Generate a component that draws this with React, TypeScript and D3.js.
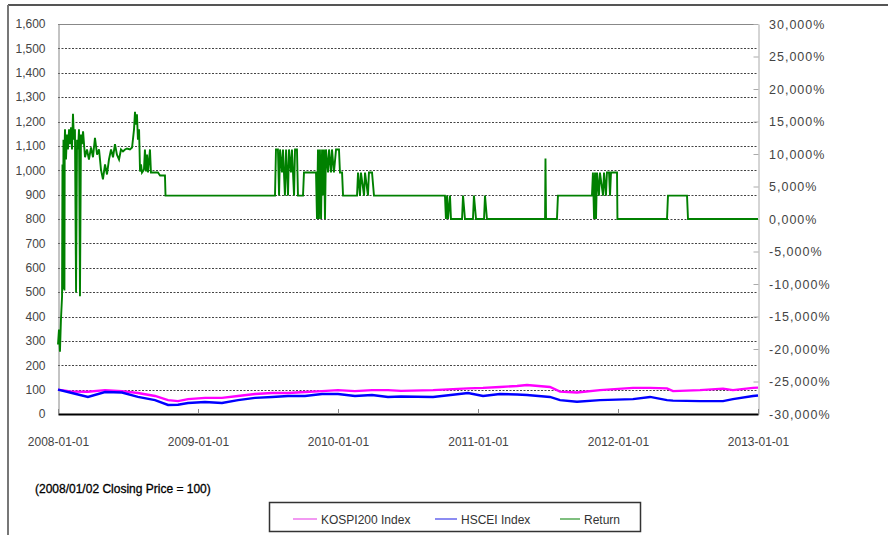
import { useEffect, useRef } from "react";
import * as d3 from "d3";

const W = 888;
const H = 535;
// plot frame in page pixels
const PLOT = { left: 58, right: 758, top: 24, bottom: 414 };
const FONT = "'Liberation Sans', Arial, sans-serif";

// ── axis ticks ─────────────────────────────────────────────────────────
const X_TICKS = [2008, 2009, 2010, 2011, 2012, 2013];
const X_LABELS = ["2008-01-01", "2009-01-01", "2010-01-01", "2011-01-01", "2012-01-01", "2013-01-01"];
const LEFT_TICKS = [0, 100, 200, 300, 400, 500, 600, 700, 800, 900, 1000, 1100, 1200, 1300, 1400, 1500, 1600];
const RIGHT_TICKS = [30000, 25000, 20000, 15000, 10000, 5000, 0, -5000, -10000, -15000, -20000, -25000, -30000];
const RIGHT_LABELS = [
  "30,000%", "25,000%", "20,000%", "15,000%", "10,000%", "5,000%", "0,000%",
  "-5,000%", "-10,000%", "-15,000%", "-20,000%", "-25,000%", "-30,000%",
];

// ── index series (2008/01/02 close = 100), left axis ───────────────────
const INDEX_YEARS = [
  2008.0, 2008.1, 2008.214, 2008.336, 2008.457, 2008.571, 2008.693, 2008.786, 2008.857, 2008.929,
  2009.05, 2009.171, 2009.286, 2009.407, 2009.529, 2009.643, 2009.764, 2009.886, 2010.0, 2010.121,
  2010.243, 2010.357, 2010.45, 2010.679, 2010.929, 2011.036, 2011.157, 2011.279, 2011.35, 2011.514,
  2011.586, 2011.707, 2011.871, 2012.107, 2012.229, 2012.35, 2012.393, 2012.586, 2012.75, 2012.821,
  2012.964, 2013.0,
];
const KOSPI200 = [
  100, 92, 91, 98, 94, 86, 74, 57, 53, 61,
  66, 66, 74, 82, 86, 86, 90, 94, 98, 94,
  98, 98, 95, 98, 105, 107, 111, 115, 119, 111,
  92, 88, 98, 107, 107, 105, 94, 98, 104, 98,
  107, 108,
];
const HSCEI = [
  100, 86, 70, 90, 88, 70, 57, 37, 38, 45,
  49, 45, 57, 66, 70, 74, 74, 82, 82, 74,
  78, 70, 72, 70, 86, 74, 82, 80, 78, 70,
  57, 50, 57, 61, 70, 57, 55, 53, 53, 61,
  74, 76,
];

// ── return series [year, %], right axis ────────────────────────────────
const RETURN: [number, number][] = [
  [2008.0, -19300], [2008.007, -17000], [2008.014, -20400], [2008.021, -15500], [2008.029, -11900],
  [2008.032, 8400], [2008.036, -10800], [2008.039, 12200], [2008.043, 8400], [2008.046, -11000],
  [2008.048, 12000], [2008.05, 13800], [2008.057, 9150], [2008.064, 13000], [2008.071, 10700],
  [2008.079, 13800], [2008.086, 11500], [2008.093, 14100], [2008.1, 10700], [2008.107, 16200],
  [2008.114, 12200], [2008.121, 13800], [2008.129, -11300], [2008.136, 12200], [2008.143, 10700],
  [2008.15, 13800], [2008.157, -11900], [2008.164, 13000], [2008.171, 11500], [2008.179, 13500],
  [2008.193, 9500], [2008.207, 10700], [2008.221, 9150], [2008.236, 11000], [2008.25, 9500],
  [2008.264, 12500], [2008.279, 9900], [2008.293, 10700], [2008.307, 7600], [2008.321, 6100],
  [2008.336, 8400], [2008.35, 6850], [2008.364, 9150], [2008.379, 10700], [2008.393, 9500],
  [2008.407, 11500], [2008.421, 9900], [2008.436, 9150], [2008.45, 10700], [2008.464, 10400],
  [2008.479, 10700], [2008.493, 10850], [2008.514, 10700], [2008.529, 11000], [2008.543, 13800],
  [2008.55, 16500], [2008.557, 14500], [2008.564, 16100], [2008.571, 12200], [2008.579, 13800],
  [2008.586, 7300], [2008.593, 8400], [2008.6, 7150], [2008.614, 7600], [2008.621, 10700],
  [2008.629, 7300], [2008.636, 9900], [2008.643, 7150], [2008.657, 10700], [2008.664, 7150],
  [2008.714, 7150], [2008.729, 6700], [2008.764, 6700], [2008.768, 3600],
  [2009.55, 3600], [2009.557, 10700], [2009.571, 10700], [2009.579, 3600], [2009.586, 10700],
  [2009.6, 7150], [2009.607, 10700], [2009.621, 3600], [2009.629, 10700], [2009.643, 3600],
  [2009.65, 10700], [2009.664, 7150], [2009.671, 10700], [2009.686, 3600], [2009.693, 10700],
  [2009.707, 10700], [2009.714, 3600], [2009.75, 3600], [2009.757, 7150], [2009.843, 7150],
  [2009.85, 0], [2009.857, 10700], [2009.864, 0], [2009.871, 10700], [2009.879, 0],
  [2009.886, 10700], [2009.893, 3600], [2009.9, 10700], [2009.907, 0], [2009.914, 10700],
  [2009.929, 7150], [2009.936, 10700], [2009.95, 7150], [2009.957, 10700], [2009.971, 7150],
  [2009.986, 10700], [2010.007, 10700], [2010.014, 7150], [2010.029, 7150], [2010.036, 3600],
  [2010.136, 3600], [2010.143, 7150], [2010.157, 3600], [2010.164, 7150], [2010.186, 3600],
  [2010.193, 7150], [2010.214, 3600], [2010.221, 7150], [2010.243, 7150], [2010.257, 3600],
  [2010.764, 3600], [2010.771, 0], [2010.779, 3600], [2010.786, 0], [2010.8, 3600],
  [2010.807, 0], [2010.886, 0], [2010.893, 3600], [2010.907, 0], [2010.964, 0],
  [2010.971, 3600], [2010.986, 0], [2011.043, 0], [2011.05, 3600], [2011.064, 0],
  [2011.479, 0], [2011.482, 9300], [2011.486, 0], [2011.564, 0], [2011.571, 3600],
  [2011.814, 3600], [2011.821, 7150], [2011.829, 0], [2011.836, 7150], [2011.843, 0],
  [2011.85, 7150], [2011.864, 3600], [2011.871, 7150], [2011.893, 3600], [2011.9, 7150],
  [2011.914, 3600], [2011.921, 7150], [2011.936, 7150], [2011.943, 3600], [2011.95, 7150],
  [2011.993, 7150], [2011.996, 0], [2012.35, 0], [2012.357, 3600], [2012.493, 3600],
  [2012.5, 0], [2013.0, 0],
];

const SERIES = [
  { name: "KOSPI200 Index", color: "#ff00ff", legend: "#ee77ee" },
  { name: "HSCEI Index", color: "#0000ff", legend: "#6666ee" },
  { name: "Return", color: "#008000", legend: "#55aa55" },
];

export default function App() {
  const svgRef = useRef<SVGSVGElement>(null);

  useEffect(() => {
    if (!svgRef.current) return;
    const svg = d3.select(svgRef.current);
    svg.selectAll("*").remove();

    const x = d3.scaleLinear().domain([2008, 2013]).range([PLOT.left, PLOT.right]);
    const yLeft = d3.scaleLinear().domain([0, 1600]).range([PLOT.bottom, PLOT.top]);
    const yRight = d3.scaleLinear().domain([-30000, 30000]).range([PLOT.bottom, PLOT.top]);
    const crisp = (v: number) => Math.round(v) + 0.5;

    // outer chart border (cut off at right/bottom)
    svg.append("line")
      .attr("x1", 8).attr("x2", W).attr("y1", 5).attr("y2", 5)
      .attr("stroke", "#555").attr("stroke-width", 2);
    svg.append("line")
      .attr("x1", 8).attr("x2", 8).attr("y1", 5).attr("y2", H)
      .attr("stroke", "#777").attr("stroke-width", 2);

    // dotted gridlines
    svg.append("g")
      .selectAll("line")
      .data(LEFT_TICKS.filter((d) => d > 0 && d < 1600))
      .join("line")
      .attr("x1", PLOT.left).attr("x2", PLOT.right)
      .attr("y1", (d) => crisp(yLeft(d))).attr("y2", (d) => crisp(yLeft(d)))
      .attr("stroke", "#444").attr("stroke-width", 1)
      .attr("stroke-dasharray", "2,1.5");

    // top frame
    svg.append("line")
      .attr("x1", PLOT.left).attr("x2", PLOT.right)
      .attr("y1", crisp(PLOT.top)).attr("y2", crisp(PLOT.top))
      .attr("stroke", "#888");

    // left axis
    const leftAxis = svg.append("g")
      .attr("transform", `translate(${PLOT.left + 0.5},0)`)
      .call(d3.axisLeft(yLeft).tickValues(LEFT_TICKS).tickFormat(d3.format(",") as any).tickSize(0).tickPadding(13));
    leftAxis.select(".domain").attr("stroke", "#888");
    leftAxis.selectAll("text")
      .attr("fill", "#444").attr("font-size", "12px").attr("font-family", FONT);

    // right axis: inner ticks + labels
    const rightTicks = svg.append("g")
      .attr("transform", `translate(${PLOT.right + 0.5},0)`)
      .call(d3.axisLeft(yRight).tickValues(RIGHT_TICKS).tickFormat(() => "").tickSize(5).tickSizeOuter(0));
    rightTicks.select(".domain").attr("stroke", "#aaa");
    rightTicks.selectAll(".tick line").attr("stroke", "#aaa");

    const rightAxis = svg.append("g")
      .attr("transform", `translate(${PLOT.right},0)`)
      .call(d3.axisRight(yRight).tickValues(RIGHT_TICKS)
        .tickFormat((_, i) => RIGHT_LABELS[i]).tickSize(0).tickPadding(11));
    rightAxis.select(".domain").remove();
    rightAxis.selectAll("text")
      .attr("fill", "#444").attr("font-size", "12.5px").attr("letter-spacing", "1px").attr("font-family", FONT);

    // series lines
    const idxLine = (vals: number[]) =>
      d3.line<number>()
        .x((_, i) => x(INDEX_YEARS[i]))
        .y((d) => yLeft(d))(vals);

    svg.append("path")
      .attr("d", idxLine(KOSPI200))
      .attr("fill", "none").attr("stroke", SERIES[0].color).attr("stroke-width", 2.4);
    svg.append("path")
      .attr("d", idxLine(HSCEI))
      .attr("fill", "none").attr("stroke", SERIES[1].color).attr("stroke-width", 2.4);

    const retLine = d3.line<[number, number]>()
      .x((d) => x(d[0]))
      .y((d) => yRight(d[1]));
    svg.append("path")
      .attr("d", retLine(RETURN))
      .attr("fill", "none").attr("stroke", SERIES[2].color)
      .attr("stroke-width", 1.9).attr("stroke-linejoin", "miter");

    // bottom axis (0 baseline, upward ticks, date labels)
    const bottomAxis = svg.append("g")
      .attr("transform", `translate(0,${PLOT.bottom})`)
      .call(d3.axisBottom(x).tickValues(X_TICKS)
        .tickFormat((_, i) => X_LABELS[i]).tickSizeInner(-5).tickSizeOuter(0).tickPadding(23));
    bottomAxis.select(".domain").attr("stroke", "#000").attr("stroke-width", 2);
    bottomAxis.selectAll(".tick line").attr("stroke", "#888");
    bottomAxis.selectAll("text")
      .attr("fill", "#444").attr("font-size", "12px").attr("font-family", FONT);

    // footnote
    svg.append("text")
      .attr("x", 35).attr("y", 493)
      .attr("fill", "#000").attr("stroke", "#000").attr("stroke-width", 0.3)
      .attr("font-size", "12px").attr("font-family", FONT)
      .text("(2008/01/02 Closing Price = 100)");

    // legend
    const legend = svg.append("g");
    legend.append("rect")
      .attr("x", 269.5).attr("y", 502.5).attr("width", 371).attr("height", 29)
      .attr("fill", "#fff").attr("stroke", "#333").attr("stroke-width", 1.5);
    const legendX = [293, 435, 560];
    const legendLen = [24, 22, 20];
    SERIES.forEach((s, i) => {
      legend.append("line")
        .attr("x1", legendX[i]).attr("x2", legendX[i] + legendLen[i])
        .attr("y1", 519).attr("y2", 519)
        .attr("stroke", s.legend).attr("stroke-width", 1.5);
      legend.append("text")
        .attr("x", legendX[i] + legendLen[i] + 4).attr("y", 524)
        .attr("fill", "#333").attr("font-size", "12px").attr("font-family", FONT)
        .text(s.name);
    });
  }, []);

  return (
    <div style={{ position: "fixed", left: 0, top: 0, width: W, height: H, background: "#fff" }}>
      <svg ref={svgRef} width={W} height={H} style={{ display: "block" }} />
    </div>
  );
}
